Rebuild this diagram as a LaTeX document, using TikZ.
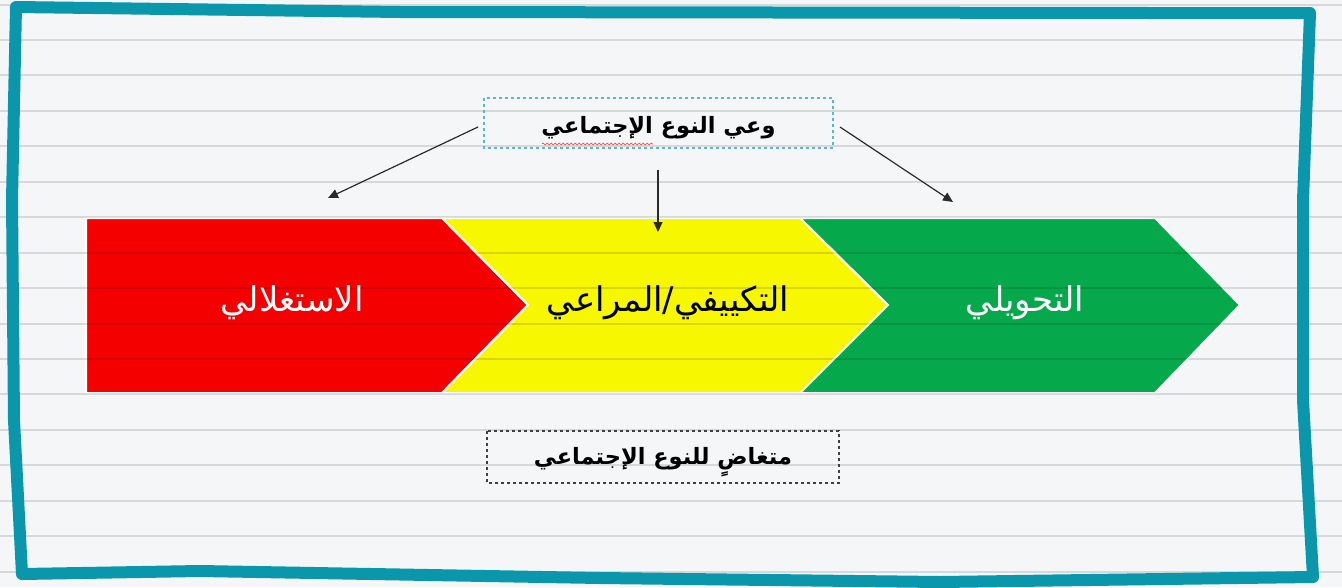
\documentclass[tikz,border=0pt]{standalone}
\usepackage{fontspec}
\usetikzlibrary{arrows.meta,decorations.pathmorphing}
\TeXXeTstate=1
\newfontfamily\arabicfont[Script=Arabic]{DejaVu Sans}
\definecolor{paper}{HTML}{F5F6F8}
\definecolor{frameteal}{HTML}{0B97AB}
\definecolor{boxteal}{HTML}{5AB8C8}
\definecolor{chred}{HTML}{F50000}
\definecolor{chyellow}{HTML}{F7F700}
\definecolor{chgreen}{HTML}{05A84A}
\definecolor{arrowgray}{HTML}{2A2A2A}
\tikzset{
  chevron/.style={draw=white,line width=2pt,line join=miter},
  ruling/.style={black,opacity=0.12,line width=2pt},
  labeltext/.style={font=\arabicfont\fontsize{34}{40}\selectfont,inner sep=0pt},
  boxtext/.style={font=\arabicfont\bfseries\fontsize{22.5}{27}\selectfont,inner sep=0pt},
  dashbox/.style={dashed,line width=1.3pt},
  pointer/.style={arrowgray,line width=1.2pt,-{Triangle[length=10pt,width=9pt]}},
}
\begin{document}
\begin{tikzpicture}[x=1pt,y=-1pt]
\useasboundingbox (0,0) rectangle (1342,587);
\fill[paper] (0,0) rectangle (1342,587);
% chevrons
\fill[chred,chevron] (86,218) -- (442,218) -- (528,305) -- (442,393) -- (86,393) -- cycle;
\fill[chyellow,chevron] (442,218) -- (800,218) -- (888,305) -- (800,393) -- (442,393) -- (528,305) -- cycle;
\fill[chgreen,chevron] (800,218) -- (1155,218) -- (1240,305) -- (1155,393) -- (800,393) -- (888,305) -- cycle;
% ruled paper lines
\foreach \i in {0,...,16} {
  \draw[ruling] (0,4.5+35.45*\i) -- (1342,4.5+35.45*\i);
}
% labels in chevrons
\node[labeltext,text=white] (exploit) at (292,303) {\beginR الاستغلالي\endR};
\node[labeltext,text=black] (adapt) at (668,303) {\beginR التكييفي/المراعي\endR};
\node[labeltext,text=white] (transform) at (1025,303) {\beginR التحويلي\endR};
% top box
\coordinate (awareNW) at (484,98);
\coordinate (awareSE) at (833,148);
\draw[boxteal,dashbox] (awareNW) rectangle (awareSE);
\node[boxtext] (aware) at (658.5,128) {\beginR وعي النوع الإجتماعي\endR};
\draw[red!80,line width=0.6pt,decorate,decoration={snake,amplitude=1pt,segment length=4pt}] (542,144) -- (653,144);
% bottom box
\coordinate (blindNW) at (487,431);
\coordinate (blindSE) at (839,483);
\draw[black!75,dashbox] (blindNW) rectangle (blindSE);
\node[boxtext] (blind) at (663,462) {\beginR متغاضٍ للنوع الإجتماعي\endR};
% pointers
\coordinate (startL) at (478,127);
\coordinate (startM) at (658,170);
\coordinate (startR) at (840,127);
\coordinate (tipL) at (328,198);
\coordinate (tipM) at (658,232);
\coordinate (tipR) at (953,202);
\draw[pointer] (startL) -- (tipL);
\draw[pointer] (startM) -- (tipM);
\draw[pointer] (startR) -- (tipR);
% hand-drawn frame
\draw[frameteal,line width=12pt,line join=round,line cap=round]
  (16,7) -- (400,12) -- (1150,13) -- (1310,13) -- (1303,200) -- (1303,400) -- (1313,577)
  -- (940,582) -- (600,578) -- (200,571) -- (22,574) -- (14,420) -- (12,200) -- cycle;
\end{tikzpicture}
\end{document}
